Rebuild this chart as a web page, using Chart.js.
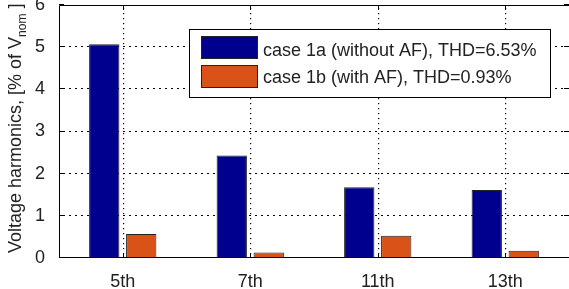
<!DOCTYPE html>
<html>
<head>
<meta charset="utf-8">
<script src="https://cdn.jsdelivr.net/npm/chart.js@4/dist/chart.umd.min.js"></script>
<style>
  html, body { margin: 0; padding: 0; background: #fff; overflow: hidden; }
  #wrap { width: 569px; height: 289px; }
</style>
</head>
<body>
<div id="wrap"><canvas id="myChart" width="569" height="289"></canvas></div>
<script>
var categories = ['5th', '7th', '11th', '13th'];
var case1a = [5.07, 2.43, 1.68, 1.61];
var case1b = [0.57, 0.13, 0.53, 0.17];
var seriesNames = ['case 1a (without AF), THD=6.53%', 'case 1b (with AF), THD=0.93%'];
var yTicks = [0, 1, 2, 3, 4, 5, 6];

var FONT = '"Liberation Sans", Arial, sans-serif';
var ctx = document.getElementById('myChart');

// dotted grid, dots drawn one by one behind the bars
function drawDots(chart) {
  var c = chart.ctx, a = chart.chartArea;
  var xs = chart.scales.x, ys = chart.scales.y;
  var left = Math.round(a.left), right = Math.round(a.right);
  var top = Math.round(a.top), bottom = Math.round(a.bottom);
  c.save();
  c.fillStyle = '#000';
  yTicks.slice(1, -1).forEach(function (v) {
    var gy = Math.round(ys.getPixelForValue(v)) - 1;
    for (var gx = left + 4; gx < right; gx += 6) {
      c.fillRect(gx, gy, 2, 1);
    }
  });
  categories.forEach(function (cat, i) {
    var gx = Math.round(xs.getPixelForValue(i));
    for (var gy = top + 3; gy < bottom; gy += 5) {
      c.fillRect(gx, gy, 1.2, 1.2);
    }
  });
  c.restore();
}

// axes box, inward tick marks, rotated y title with subscript, boxed legend
var matlabLook = {
  id: 'matlabLook',
  beforeDatasetsDraw: function (chart) {
    drawDots(chart);
  },
  afterDraw: function (chart) {
    var c = chart.ctx, a = chart.chartArea;
    var xs = chart.scales.x, ys = chart.scales.y;
    c.save();
    c.strokeStyle = '#000';
    c.lineWidth = 1;
    c.beginPath();
    c.moveTo(a.left + 0.5, a.top + 0.5);
    c.lineTo(a.right + 0.5, a.top + 0.5);
    c.lineTo(a.right + 0.5, a.bottom - 0.5);
    c.lineTo(a.left + 0.5, a.bottom - 0.5);
    c.closePath();
    c.stroke();

    // tick marks
    c.beginPath();
    yTicks.forEach(function (v) {
      var y = Math.round(ys.getPixelForValue(v)) - 0.5;
      c.moveTo(a.left, y); c.lineTo(a.left + 5, y);
      c.moveTo(a.right - 5, y); c.lineTo(a.right, y);
    });
    categories.forEach(function (cat, i) {
      var x = Math.round(xs.getPixelForValue(i)) + 0.5;
      c.moveTo(x, a.top); c.lineTo(x, a.top + 5);
      c.moveTo(x, a.bottom); c.lineTo(x, a.bottom - 5);
    });
    c.stroke();

    // y axis title
    c.save();
    c.translate(21, 253);
    c.rotate(-Math.PI / 2);
    c.fillStyle = '#222';
    c.textAlign = 'left';
    c.textBaseline = 'alphabetic';
    c.font = '18px ' + FONT;
    var main = 'Voltage harmonics, [% of V';
    c.fillText(main, 0, 0);
    var w = c.measureText(main).width;
    c.font = '12px ' + FONT;
    c.fillText('nom', w, 5);
    w += c.measureText('nom').width;
    c.font = '18px ' + FONT;
    c.fillText(' ]', w, 0);
    c.restore();

    // legend
    var lx = 189, ly = 29, lw = 361, lh = 68;
    c.fillStyle = '#fff';
    c.fillRect(lx, ly, lw, lh);
    c.strokeStyle = '#000';
    c.strokeRect(lx + 0.5, ly + 0.5, lw, lh);
    c.font = '18px ' + FONT;
    c.textBaseline = 'alphabetic';
    chart.data.datasets.forEach(function (ds, i) {
      var sy = 36 + i * 29;
      c.fillStyle = ds.backgroundColor;
      c.fillRect(201, sy, 57, 23);
      c.strokeStyle = '#222';
      c.strokeRect(201.5, sy + 0.5, 56, 22);
      c.fillStyle = '#222';
      c.fillText(ds.label, 263, 56 + i * 27);
    });
    c.restore();
  }
};

var myChart = new Chart(ctx, {
  type: 'bar',
  data: {
    labels: categories,
    datasets: [{
      label: seriesNames[0],
      data: case1a,
      backgroundColor: 'rgb(0, 0, 143)',
      borderColor: '#222',
      borderWidth: 1,
      categoryPercentage: 0.58,
      barPercentage: 0.82
    }, {
      label: seriesNames[1],
      data: case1b,
      backgroundColor: 'rgb(217, 83, 25)',
      borderColor: '#222',
      borderWidth: 1,
      categoryPercentage: 0.58,
      barPercentage: 0.82
    }]
  },
  options: {
    responsive: false,
    animation: false,
    devicePixelRatio: 1,
    layout: { padding: { top: 5, right: 0, bottom: 0, left: 0 } },
    plugins: { legend: { display: false }, tooltip: { enabled: false } },
    scales: {
      x: {
        grid: { display: false },
        border: { display: false },
        ticks: { color: '#222', font: { family: FONT, size: 18 }, padding: 5, maxRotation: 0 },
        afterFit: function (s) { s.height = 31; s.paddingLeft = 0; s.paddingRight = 0; }
      },
      y: {
        min: 0,
        max: 6,
        grid: { display: false },
        border: { display: false },
        ticks: {
          stepSize: 1, padding: 6, color: '#222',
          font: { family: FONT, size: 18 },
          callback: function (v) { return yTicks.indexOf(v) >= 0 ? String(v) : ''; }
        },
        afterFit: function (s) { s.width = 59; s.paddingTop = 0; s.paddingBottom = 0; }
      }
    }
  },
  plugins: [matlabLook]
});
</script>
</body>
</html>
